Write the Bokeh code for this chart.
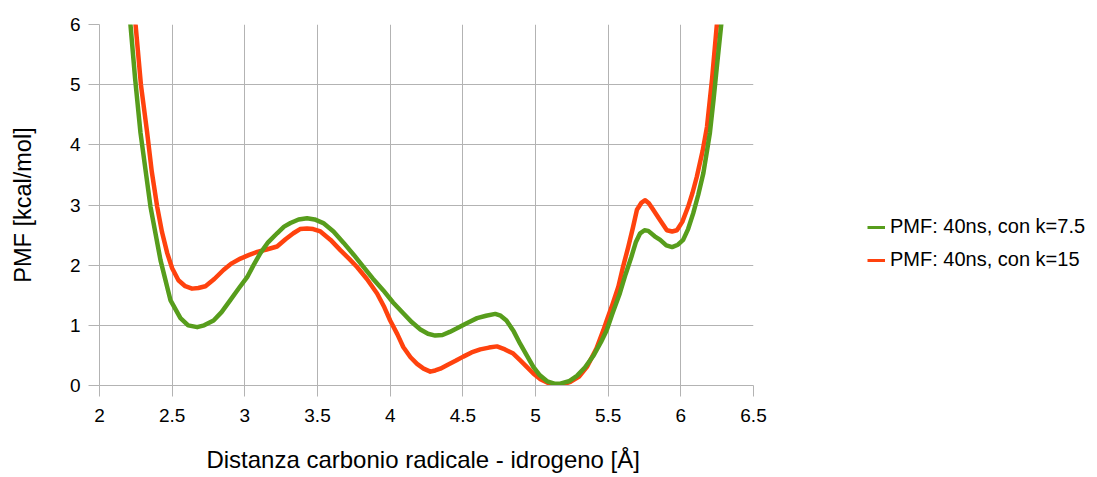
from bokeh.plotting import figure
from bokeh.models import Range1d, FixedTicker, Legend, LegendItem
from bokeh.layouts import row
from bokeh.embed import file_html
from bokeh.resources import INLINE

# ---- data ----
x_k75 = [2.200, 2.213, 2.245, 2.282, 2.351, 2.420, 2.488, 2.557, 2.610, 2.672, 2.720, 2.785,
         2.840, 2.900, 2.960, 3.016, 3.060, 3.107, 3.160, 3.222, 3.270, 3.314, 3.370, 3.428,
         3.480, 3.540, 3.610, 3.680, 3.750, 3.816, 3.880, 3.953, 4.020, 4.090, 4.150, 4.208,
         4.260, 4.310, 4.360, 4.410, 4.460, 4.530, 4.598, 4.660, 4.723, 4.760, 4.800, 4.850,
         4.895, 4.940, 4.985, 5.030, 5.080, 5.130, 5.170, 5.230, 5.285, 5.340, 5.400, 5.450,
         5.490, 5.530, 5.580, 5.620, 5.660, 5.690, 5.720, 5.750, 5.776, 5.820, 5.858, 5.900,
         5.940, 5.980, 6.016, 6.050, 6.085, 6.120, 6.155, 6.180, 6.200, 6.225, 6.248, 6.278, 6.290]
y_k75 = [6.30, 6.00, 5.10, 4.20, 2.97, 2.08, 1.42, 1.12, 1.00, 0.97, 1.00, 1.08,
         1.22, 1.42, 1.62, 1.80, 2.00, 2.20, 2.38, 2.53, 2.64, 2.70, 2.76, 2.78,
         2.76, 2.70, 2.56, 2.37, 2.17, 1.97, 1.78, 1.58, 1.38, 1.20, 1.05, 0.93,
         0.86, 0.83, 0.84, 0.89, 0.95, 1.04, 1.12, 1.16, 1.19, 1.16, 1.08, 0.90,
         0.69, 0.50, 0.31, 0.17, 0.07, 0.03, 0.03, 0.07, 0.16, 0.30, 0.50, 0.72,
         0.92, 1.20, 1.53, 1.85, 2.14, 2.38, 2.53, 2.58, 2.57, 2.48, 2.42, 2.33,
         2.30, 2.34, 2.42, 2.60, 2.86, 3.17, 3.53, 3.90, 4.20, 4.75, 5.30, 6.00, 6.30]

x_k15 = [2.240, 2.248, 2.285, 2.328, 2.360, 2.397, 2.430, 2.466, 2.500, 2.543, 2.590, 2.637,
         2.680, 2.729, 2.790, 2.853, 2.910, 2.970, 3.030, 3.085, 3.150, 3.222, 3.280, 3.334,
         3.380, 3.428, 3.470, 3.520, 3.590, 3.657, 3.720, 3.772, 3.840, 3.910, 3.960, 4.000,
         4.050, 4.090, 4.140, 4.185, 4.230, 4.276, 4.310, 4.345, 4.400, 4.450, 4.503, 4.560,
         4.620, 4.680, 4.735, 4.790, 4.847, 4.890, 4.940, 4.985, 5.030, 5.080, 5.136, 5.190,
         5.240, 5.300, 5.354, 5.420, 5.467, 5.490, 5.530, 5.570, 5.600, 5.638, 5.670, 5.698,
         5.730, 5.755, 5.780, 5.810, 5.860, 5.904, 5.940, 5.973, 6.010, 6.050, 6.080, 6.110,
         6.150, 6.180, 6.215, 6.248, 6.260]
y_k15 = [6.30, 6.00, 5.00, 4.20, 3.55, 2.97, 2.55, 2.20, 1.95, 1.75, 1.65, 1.61,
         1.62, 1.65, 1.77, 1.92, 2.03, 2.11, 2.17, 2.22, 2.26, 2.31, 2.43, 2.53,
         2.60, 2.61, 2.60, 2.56, 2.42, 2.25, 2.10, 1.97, 1.77, 1.53, 1.30, 1.08,
         0.85, 0.64, 0.47, 0.36, 0.28, 0.23, 0.25, 0.28, 0.35, 0.41, 0.48, 0.55,
         0.60, 0.63, 0.65, 0.60, 0.53, 0.43, 0.31, 0.20, 0.11, 0.05, 0.01, 0.02,
         0.06, 0.15, 0.31, 0.62, 0.92, 1.08, 1.35, 1.64, 1.95, 2.30, 2.62, 2.92,
         3.04, 3.08, 3.03, 2.92, 2.74, 2.58, 2.56, 2.58, 2.72, 2.97, 3.20, 3.47,
         3.90, 4.30, 5.10, 6.00, 6.30]

series_names = ["PMF: 40ns, con k=7.5", "PMF: 40ns, con k=15"]
x_ticks = [2, 2.5, 3, 3.5, 4, 4.5, 5, 5.5, 6, 6.5]
x_tick_labels = ["2", "2.5", "3", "3.5", "4", "4.5", "5", "5.5", "6", "6.5"]
y_ticks = [0, 1, 2, 3, 4, 5, 6]
y_tick_labels = ["0", "1", "2", "3", "4", "5", "6"]
x_title = "Distanza carbonio radicale - idrogeno  [Å]"
y_title = "PMF [kcal/mol]"

GREEN = "#579d1c"
RED = "#ff420e"
GRID = "#b3b3b3"
FONT = "Liberation Sans"

# ---- main chart ----
p = figure(width=800, height=477, x_range=Range1d(2, 6.5), y_range=Range1d(0, 6),
           output_backend="svg", toolbar_location=None,
           min_border_left=99, min_border_right=47, min_border_top=24, min_border_bottom=92)
p.outline_line_color = None
p.background_fill_color = "white"
p.border_fill_color = "white"

r1 = p.line(x_k75, y_k75, line_color=GREEN, line_width=4.5, line_join="round")
r2 = p.line(x_k15, y_k15, line_color=RED, line_width=4.5, line_join="round")
p.renderers = [r2, r1]

p.xaxis.ticker = FixedTicker(ticks=x_ticks)
p.yaxis.ticker = FixedTicker(ticks=y_ticks)
p.xaxis.major_label_overrides = {t: l for t, l in zip(x_ticks, x_tick_labels)}
p.yaxis.major_label_overrides = {t: l for t, l in zip(y_ticks, y_tick_labels)}
p.xaxis.minor_tick_line_color = None
p.yaxis.minor_tick_line_color = None

for ax in (p.xaxis, p.yaxis):
    ax.major_tick_out = 11
    ax.major_tick_in = 0
    ax.major_tick_line_color = GRID
    ax.axis_line_color = GRID
    ax.major_label_text_font = FONT
    ax.major_label_text_font_size = "19px"
    ax.major_label_text_color = "#000000"
    ax.axis_label_text_font = FONT
    ax.axis_label_text_font_style = "normal"
    ax.axis_label_text_color = "#000000"

p.xaxis.major_label_standoff = 12
p.yaxis.major_label_standoff = 8
p.xaxis.axis_label = x_title
p.yaxis.axis_label = y_title
p.xaxis.axis_label_text_font_size = "24px"
p.yaxis.axis_label_text_font_size = "23.5px"
p.xaxis.axis_label_standoff = 21
p.yaxis.axis_label_standoff = 31

p.xgrid.grid_line_color = GRID
p.ygrid.grid_line_color = GRID
p.xgrid.grid_line_width = 1
p.ygrid.grid_line_width = 1

# ---- legend panel (separate figure to the right; its lines lie outside its ranges) ----
q = figure(width=297, height=477, x_range=Range1d(100, 101), y_range=Range1d(100, 101),
           output_backend="svg", toolbar_location=None,
           x_axis_location=None, y_axis_location=None,
           min_border_left=0, min_border_right=0, min_border_top=0, min_border_bottom=0)
q.outline_line_color = None
q.xgrid.visible = False
q.ygrid.visible = False
q.border_fill_color = "white"
q.background_fill_color = "white"
k1 = q.line(x_k75, y_k75, line_color=GREEN, line_width=3)
k2 = q.line(x_k15, y_k15, line_color=RED, line_width=3)

legend = Legend(items=[LegendItem(label=series_names[0], renderers=[k1]),
                       LegendItem(label=series_names[1], renderers=[k2])],
                location=(67, 114))
legend.padding = 0
legend.margin = 0
legend.border_line_color = None
legend.background_fill_alpha = 0
legend.glyph_width = 18
legend.glyph_height = 20
legend.label_standoff = 5
legend.spacing = 10
legend.label_text_font = FONT
legend.label_text_font_size = "20px"
legend.label_text_color = "#000000"
q.add_layout(legend, "center")

layout = row(p, q)
open("out.html", "w").write(file_html(layout, INLINE))
